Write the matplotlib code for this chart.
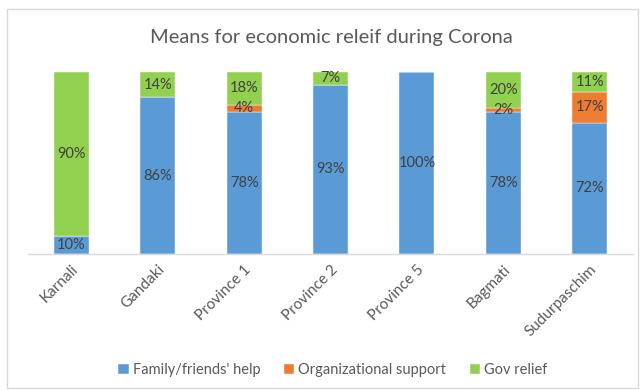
import matplotlib
matplotlib.use("Agg")
import matplotlib.pyplot as plt
from matplotlib.patches import Rectangle
import numpy as np

plt.rcParams['font.family'] = ['Lato', 'DejaVu Sans']

categories = ["Karnali", "Gandaki", "Province 1", "Province 2", "Province 5", "Bagmati", "Sudurpaschim"]
family = [10, 86, 78, 93, 100, 78, 72]
organizational = [0, 0, 4, 0, 0, 2, 17]
gov = [90, 14, 18, 7, 0, 20, 11]
series_names = ["Family/friends' help", "Organizational support", "Gov relief"]
colors = ["#5B9BD5", "#ED7D31", "#92D050"]

fig = plt.figure(figsize=(6.44, 3.90), dpi=100)
fig.patches.append(Rectangle((7/644, 2/390), 631/644, 379/390, transform=fig.transFigure,
                             fill=False, edgecolor="#D9D9D9", linewidth=1.0))
ax = fig.add_axes([28/644, 1-254/390, 605/644, 182/390])

x = np.arange(len(categories))
width = 0.405
bottom = np.zeros(len(categories))
for vals, name, col in zip([family, organizational, gov], series_names, colors):
    vals = np.array(vals, dtype=float)
    ax.bar(x, vals, width, bottom=bottom, color=col, label=name,
           edgecolor="white", linewidth=0.3)
    for xi, v, b in zip(x, vals, bottom):
        if v > 0:
            ax.text(xi, b + v/2, f"{int(v)}%", ha="center", va="center",
                    fontsize=10.5, color="#404040")
    bottom += vals

ax.set_xlim(-0.5, len(categories) - 0.5)
ax.set_ylim(0, 100)
ax.set_yticks([])
for s in ["top", "right", "left"]:
    ax.spines[s].set_visible(False)
ax.spines["bottom"].set_color("#D9D9D9")
ax.spines["bottom"].set_linewidth(1.0)
ax.set_xticks(x)
ax.set_xticklabels(categories, rotation=45, ha="right", rotation_mode="anchor",
                   fontsize=11, color="#595959")
ax.tick_params(axis="x", length=0, pad=6)

fig.text(331/644, 1-37/390, "Means for economic releif during Corona", ha="center", va="center",
         fontsize=14.5, color="#595959")

fig.legend(loc="center", bbox_to_anchor=(333/644, 1-370/390), ncol=3, frameon=False,
           fontsize=10.5, handlelength=0.7, handleheight=0.7, handletextpad=0.3,
           columnspacing=1.6, labelcolor="#595959")

fig.savefig("out.png", dpi=100)
